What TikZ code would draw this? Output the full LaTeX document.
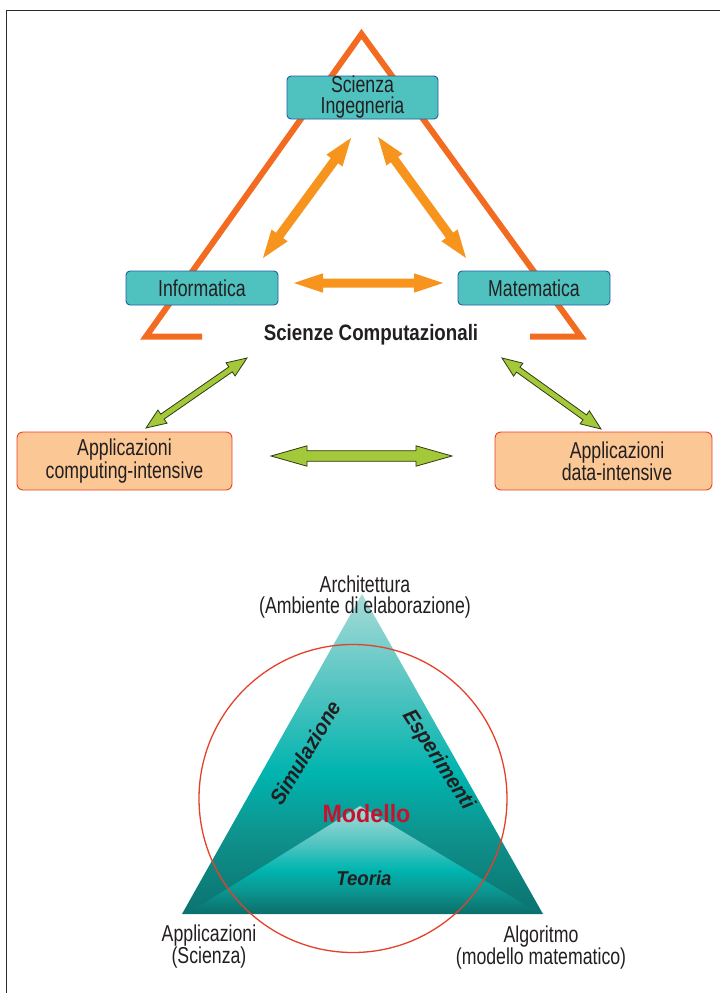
\documentclass[tikz,border=0pt]{standalone}
\usepackage{fontspec}
\setmainfont[FakeStretch=0.77]{Liberation Sans}
\newfontfamily\headfont[FakeStretch=0.84]{Liberation Sans}
\newfontfamily\pyrfont[FakeStretch=0.93]{Liberation Sans}
\usetikzlibrary{calc}

\definecolor{ink}{HTML}{231F20}
\definecolor{framec}{HTML}{2B2B2B}
\definecolor{triorange}{HTML}{F26B21}
\definecolor{arroworange}{HTML}{F7941D}
\definecolor{tealfill}{HTML}{4FC2BF}
\definecolor{boxblue}{HTML}{1F5CA6}
\definecolor{peachfill}{HTML}{FAC795}
\definecolor{peachline}{HTML}{EE4026}
\definecolor{greenfill}{HTML}{A3C83A}
\definecolor{greenline}{HTML}{2E3A12}
\definecolor{circlered}{HTML}{E5402A}
\definecolor{modelred}{HTML}{C4122F}

% colours of the pyramid shadings
\definecolor{oA}{HTML}{0B736F}
\definecolor{oB}{HTML}{0F918C}
\definecolor{oC}{HTML}{00B4AF}
\definecolor{oD}{HTML}{52C4C0}
\definecolor{oE}{HTML}{A6DBD9}
\definecolor{iA}{HTML}{0B716D}
\definecolor{iB}{HTML}{0C9691}
\definecolor{iC}{HTML}{00B5B0}
\definecolor{iD}{HTML}{55C5C2}
\definecolor{iE}{HTML}{A8DCDA}

% vertical shadings: the path's box spans 25bp (bottom) to 75bp (top)
\pgfdeclareverticalshading{outertri}{100bp}{%
  color(0bp)=(oA); color(25bp)=(oA); color(37bp)=(oB); color(47bp)=(oC);
  color(60bp)=(oD); color(75bp)=(oE); color(100bp)=(oE)}
\pgfdeclareverticalshading{innertri}{100bp}{%
  color(0bp)=(iA); color(25bp)=(iA); color(35bp)=(iB); color(45bp)=(iC);
  color(58bp)=(iD); color(75bp)=(iE); color(100bp)=(iE)}

% broad double-headed arrow drawn as a polygon between two named points
% #1 style, #2 first tip, #3 second tip, #4 half shaft, #5 half head, #6 head length
\newcommand\fatarrow[6]{%
  \path[#1] (#2)
    -- ($(#2)!#6!(#3)!#5!90:(#3)$)
    -- ($(#2)!#6!(#3)!#4!90:(#3)$)
    -- ($(#3)!#6!(#2)!#4!-90:(#2)$)
    -- ($(#3)!#6!(#2)!#5!-90:(#2)$)
    -- (#3)
    -- ($(#3)!#6!(#2)!#5!90:(#2)$)
    -- ($(#3)!#6!(#2)!#4!90:(#2)$)
    -- ($(#2)!#6!(#3)!#4!-90:(#3)$)
    -- ($(#2)!#6!(#3)!#5!-90:(#3)$)
    -- cycle;}

\tikzset{
  txt/.style={text=ink, align=center, inner sep=0pt, font=\fontsize{23}{21}\selectfont},
  tealbox/.style={txt, draw=boxblue, fill=tealfill, line width=0.9pt, rounded corners=4pt},
  peachbox/.style={draw=peachline, fill=peachfill, line width=0.9pt, rounded corners=6pt, inner sep=0pt},
  boldlbl/.style={txt, font=\headfont\fontsize{22.3}{23}\bfseries\selectfont},
  sidelbl/.style={txt, font=\pyrfont\fontsize{21.5}{22}\bfseries\itshape\selectfont},
  trioutline/.style={draw=triorange, line width=6pt, line join=miter, miter limit=10},
  orangearrow/.style={fill=arroworange},
  greenarrow/.style={fill=greenfill, draw=greenline, line width=0.8pt, line join=miter},
}

\begin{document}
\begin{tikzpicture}[x=1pt,y=-1pt]
\useasboundingbox (0,0) rectangle (720,993);

% page frame
\draw[framec, line width=1.6pt] (720,10.5) -- (6.5,10.5) -- (6.5,993);

% ---------- upper diagram ----------
\draw[trioutline] (202,336.5) -- (146,336.5) -- (361.5,34) -- (581,336.5) -- (530,336.5);

\node[tealbox, minimum width=151pt, minimum height=43pt] (sci) at (362.5,97.5) {Scienza\\Ingegneria};
\node[tealbox, minimum width=152pt, minimum height=34pt] (inf) at (202,288) {Informatica};
\node[tealbox, minimum width=152pt, minimum height=34pt] (mat) at (534,288) {Matematica};
\node[boldlbl] (scomp) at (371,335) {Scienze Computazionali};

\coordinate (oa1) at (263,258);
\coordinate (oa2) at (351,138);
\coordinate (ob1) at (378,137);
\coordinate (ob2) at (466,258);
\coordinate (oc1) at (294,283);
\coordinate (oc2) at (443,283);
\fatarrow{orangearrow}{oa1}{oa2}{4.5pt}{10pt}{28pt}
\fatarrow{orangearrow}{ob1}{ob2}{4.5pt}{10pt}{28pt}
\fatarrow{orangearrow}{oc1}{oc2}{4.5pt}{9.7pt}{29pt}

\node[peachbox, minimum width=215pt, minimum height=58pt] (appC) at (124.5,461) {};
\node[txt] (appCt) at (appC.center) {Applicazioni\\computing-intensive};
\node[peachbox, minimum width=217pt, minimum height=58pt] (appD) at (603.5,461) {};
\node[txt] (appDt) at ($(appD.center)+(13.5,0)$) {Applicazioni\\data-intensive};

\coordinate (ga1) at (146,428);
\coordinate (ga2) at (247,358);
\coordinate (gb1) at (502,358);
\coordinate (gb2) at (601,429);
\coordinate (gc1) at (271,456);
\coordinate (gc2) at (452,456);
\fatarrow{greenarrow}{ga1}{ga2}{3pt}{8pt}{20pt}
\fatarrow{greenarrow}{gb1}{gb2}{3pt}{8pt}{20pt}
\fatarrow{greenarrow}{gc1}{gc2}{5.3pt}{10.2pt}{36pt}

% ---------- lower diagram ----------
\coordinate (tTop) at (362,594);
\coordinate (tLeft) at (182,914);
\coordinate (tRight) at (543,914);
\coordinate (iTop) at (360,806);
\coordinate (iLeft) at (190,912);
\coordinate (iRight) at (537,912);
\path[shading=outertri] (tTop) -- (tLeft) -- (tRight) -- cycle;
\path[shading=innertri] (iTop) -- (iLeft) -- (iRight) -- cycle;

\draw[circlered, line width=1.3pt] (353,798.5) circle[radius=154];

\node[txt] (arch) at (365,597) {Architettura\\(Ambiente di elaborazione)};
\node[txt] (appS) at (209,946.5) {Applicazioni\\(Scienza)};
\node[txt] (algo) at (541,947.5) {Algoritmo\\(modello matematico)};

\node[sidelbl, rotate=59] (sim) at (305,753) {Simulazione};
\node[sidelbl, rotate=-57] (esp) at (438,760) {Esperimenti};
\node[txt, text=modelred, font=\pyrfont\fontsize{25}{25}\bfseries\selectfont] (mod) at (366.5,814) {Modello};
\node[sidelbl, font=\pyrfont\fontsize{20}{20}\bfseries\itshape\selectfont] (teo) at (364,878) {Teoria};
\end{tikzpicture}
\end{document}
